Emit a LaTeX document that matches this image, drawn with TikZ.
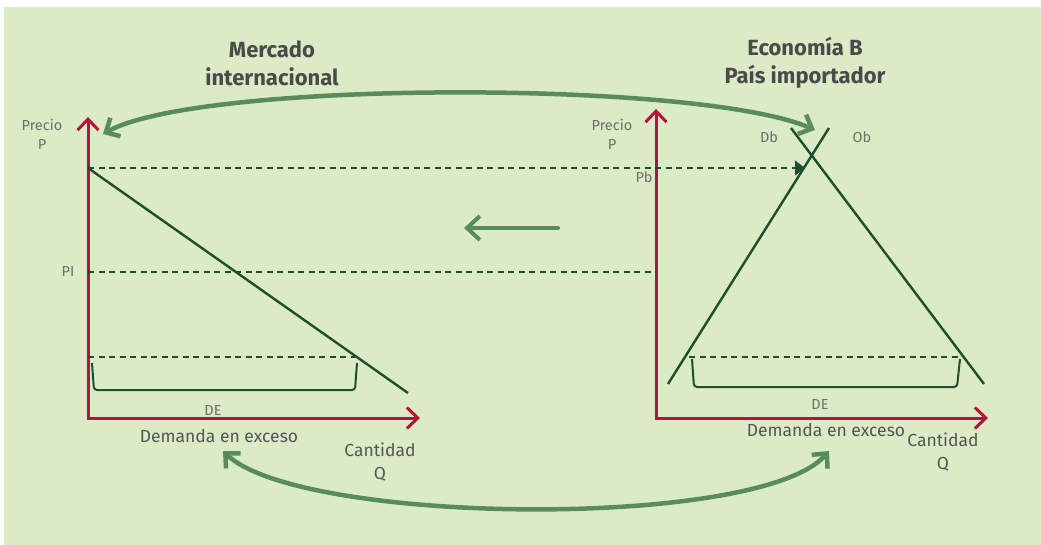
\documentclass[tikz,border=0pt]{standalone}
\usepackage{fontspec}
\setmainfont{Fira Sans}
\usepackage{xcolor}
\usepackage{tikz}
\usetikzlibrary{arrows.meta}

\definecolor{fondo}{HTML}{DAEBC5}
\definecolor{eje}{HTML}{B5123E}
\definecolor{recta}{HTML}{1F4D2E}
\definecolor{flecha}{HTML}{5A8C5A}
\definecolor{gris}{HTML}{6E6E6E}
\definecolor{grisosc}{HTML}{555555}
\definecolor{titulo}{HTML}{4A4A4A}

\begin{document}
\begin{tikzpicture}[x=1pt,y=-1pt,
  ejes/.style={eje,line width=3pt,
    {Straight Barb[length=11pt,width=21pt]}-{Straight Barb[length=11pt,width=21pt]}},
  linea/.style={recta,line width=2.4pt},
  guia/.style={recta,line width=1.3pt,dash pattern=on 6pt off 4.5pt},
  llave/.style={recta,line width=2pt,rounded corners=3pt},
  arco/.style={flecha,line width=4.5pt,line cap=round,
    {Straight Barb[length=11pt,width=21pt]}-{Straight Barb[length=11pt,width=21pt]}},
  tit/.style={titulo,font=\bfseries\fontsize{22}{28}\selectfont,align=center},
  etq/.style={gris,font=\fontsize{14.5}{19}\selectfont,align=center,inner sep=0pt},
  eje label/.style={grisosc,font=\fontsize{17.5}{23}\selectfont,align=center,inner sep=0pt}]

% Fondo
\fill[white] (0,0) rectangle (1041,545);
\fill[fondo] (4,7) rectangle (1041,545);

% Titulos
\node[tit] (titA) at (272,63) {Mercado\\internacional};
\node[tit] (titB) at (805,63) {Economía B\\País importador};

% Mercado internacional: ejes
\coordinate (oA) at (88,418);
\coordinate (yA) at (88,117);
\coordinate (xA) at (420,418);
\draw[ejes] (yA) -- (oA) -- (xA);
\node[etq] (precioA) at (42,134) {Precio\\P};
\node[eje label] (cantA) at (380,462) {Cantidad\\Q};
\node[etq] (PI) at (68,272) {PI};

% Demanda en exceso
\coordinate (deA1) at (88,168);
\coordinate (deA2) at (408,393);
\draw[linea] (deA1) -- (deA2);
\draw[guia] (88,357) -- (357,357);
\draw[llave] (92,363) -- (94,390) -- (355,390) -- (357,363);
\node[etq] (DEA) at (213,411) {DE};
\node[eje label] (demA) at (219,436) {Demanda en exceso};

% Economia B: ejes
\coordinate (oB) at (656,418);
\coordinate (yB) at (656,109);
\coordinate (xB) at (988,418);
\draw[ejes] (yB) -- (oB) -- (xB);
\node[etq] (precioB) at (612,134) {Precio\\P};
\node[eje label] (cantB) at (943,452) {Cantidad\\Q};
\node[etq] (Pb) at (644,177) {Pb};

% Oferta y demanda
\coordinate (ob1) at (668,384);
\coordinate (ob2) at (829,128);
\coordinate (db1) at (791,128);
\coordinate (db2) at (984,384);
\draw[linea] (ob1) -- (ob2);
\draw[linea] (db1) -- (db2);
\node[etq] (Db) at (769,137) {Db};
\node[etq] (Ob) at (862,137) {Ob};
\draw[guia] (689,357) -- (961,357);
\draw[llave] (692,359) -- (694,387) -- (957,387) -- (960,359);
\node[etq] (DEB) at (820,405) {DE};
\node[eje label] (demB) at (826,430) {Demanda en exceso};

% Precios
\coordinate (pb) at (805,168);
\coordinate (plA) at (88,272);
\coordinate (plB) at (656,272);
\draw[guia,-{Triangle[length=10pt,width=15pt]}] (deA1) -- (pb);
\draw[guia] (plA) -- (plB);

% Flechas
\coordinate (a1) at (103,134);
\coordinate (a2) at (815,130);
\draw[arco] (a1) .. controls (200,80) and (700,80) .. (a2);
\coordinate (b1) at (223,451);
\coordinate (b2) at (829,451);
\draw[arco] (b1) .. controls (300,525) and (760,530) .. (b2);
\coordinate (m1) at (558,228);
\coordinate (m2) at (464,228);
\draw[flecha,line width=4pt,line cap=round,-{Straight Barb[length=13pt,width=24pt]}] (m1) -- (m2);
\end{tikzpicture}
\end{document}
